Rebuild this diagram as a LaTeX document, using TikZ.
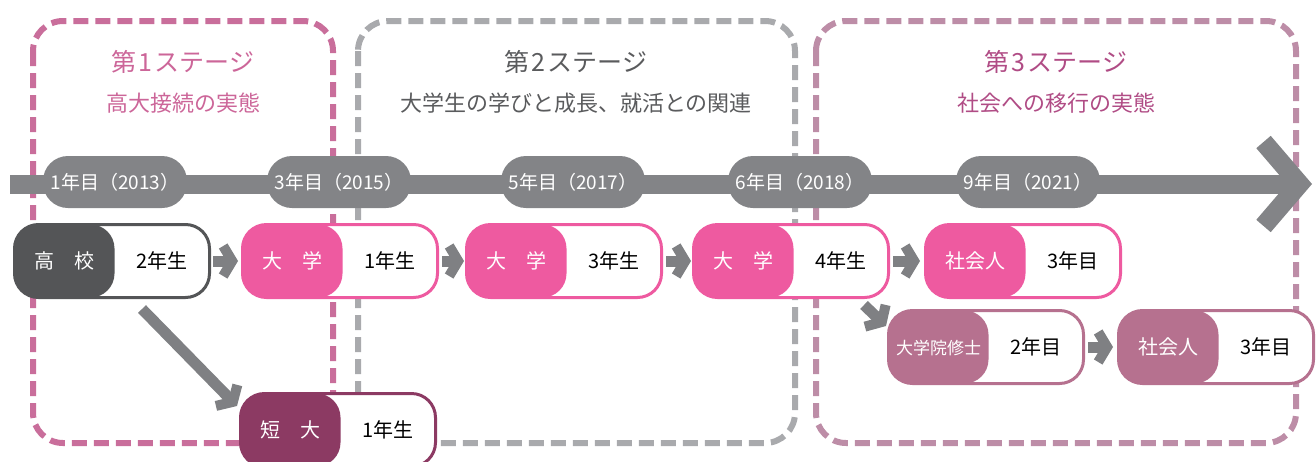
\documentclass[tikz,border=0pt]{standalone}
\usepackage{fontspec}
\setmainfont{Noto Sans CJK JP}
\usetikzlibrary{arrows.meta}
\definecolor{stageone}{HTML}{C96E9B}
\definecolor{stagetwo}{HTML}{A9AAAD}
\definecolor{stagethree}{HTML}{BD8DA7}
\definecolor{titleone}{HTML}{CC6699}
\definecolor{titletwo}{HTML}{5A5B5D}
\definecolor{titlethree}{HTML}{B04C85}
\definecolor{timegray}{HTML}{838487}
\definecolor{arrowgray}{HTML}{7F8083}
\definecolor{schoolgray}{HTML}{545557}
\definecolor{univpink}{HTML}{EE5AA0}
\definecolor{gradmauve}{HTML}{B6718F}
\definecolor{juniorplum}{HTML}{8C3A63}
\newcommand{\twopart}[2]{\makebox[100pt]{\color{white}#1}\makebox[95pt]{#2}}
\tikzset{
  stageframe/.style={draw=#1, line width=6pt, dash pattern=on 15pt off 7pt, rounded corners=30pt},
  stagetitle/.style={text=#1, font=\fontsize{25}{25}\selectfont},
  stagesub/.style={text=#1, font=\fontsize{22}{22}\selectfont},
  yearpill/.style={fill=timegray, text=white, rounded corners=25pt, minimum width=144pt,
    minimum height=52pt, inner sep=0pt, font=\fontsize{19}{19}\selectfont},
  stagebox/.style={draw=#1, line width=3pt, fill=white, rounded corners=24pt,
    minimum width=195pt, minimum height=73pt, inner sep=0pt, font=\fontsize{20}{20}\selectfont,
    path picture={\fill[#1] (path picture bounding box.north west)
      rectangle ([xshift=100pt]path picture bounding box.south west);}},
  flow/.style={draw=arrowgray, line width=11pt, -{Straight Barb[length=9pt, width=30pt, line width=10pt]}}
}
\begin{document}
\begin{tikzpicture}[x=1pt,y=-1pt]
\useasboundingbox (0,0) rectangle (1316,461);
% stage frames
\draw[stageframe=stageone] (33,21) rectangle (333,443);
\draw[stageframe=stagetwo] (358,21) rectangle (795,443);
\draw[stageframe=stagethree] (816,21) rectangle (1296,443);
\node[stagetitle=titleone] (s1title) at (183,62) {第\kern2pt 1\kern2pt ステージ};
\node[stagesub=titleone] (s1sub) at (183,103) {高大接続の実態};
\node[stagetitle=titletwo] (s2title) at (576,62) {第\kern2pt 2\kern2pt ステージ};
\node[stagesub=titletwo] (s2sub) at (576,103) {大学生の学びと成長、就活との関連};
\node[stagetitle=titlethree] (s3title) at (1056,62) {第\kern2pt 3\kern2pt ステージ};
\node[stagesub=titlethree] (s3sub) at (1056,103) {社会への移行の実態};
% timeline
\coordinate (tstart) at (10,184);
\coordinate (tend) at (1312,184);
\draw[timegray, line width=19pt, -{Straight Barb[length=36pt, width=84pt, line width=19pt]}] (tstart) -- (tend);
\node[yearpill] (y1) at (115,182) {1年目（2013）};
\node[yearpill] (y3) at (339,182) {3年目（2015）};
\node[yearpill] (y5) at (573,182) {5年目（2017）};
\node[yearpill] (y6) at (800,182) {6年目（2018）};
\node[yearpill] (y9) at (1028,182) {9年目（2021）};
% boxes
\node[stagebox=schoolgray] (koko) at (112,261) {\twopart{高　校}{2年生}};
\node[stagebox=univpink] (dai1) at (340,261) {\twopart{大　学}{1年生}};
\node[stagebox=univpink] (dai3) at (564,261) {\twopart{大　学}{3年生}};
\node[stagebox=univpink] (dai4) at (791,261) {\twopart{大　学}{4年生}};
\node[stagebox=univpink] (sha1) at (1023,261) {\twopart{社会人}{3年目}};
\node[stagebox=gradmauve] (insyu) at (986,347) {\twopart{\fontsize{17}{17}\selectfont 大学院修士}{2年目}};
\node[stagebox=gradmauve] (sha2) at (1216,347) {\twopart{社会人}{3年目}};
\node[stagebox=juniorplum] (tanki) at (338,430) {\twopart{短　大}{1年生}};
% arrows
\draw[flow] ([xshift=2pt]koko.east) -- ([xshift=-3pt]dai1.west);
\draw[flow] ([xshift=3pt]dai1.east) -- ([xshift=-1pt]dai3.west);
\draw[flow] ([xshift=3pt]dai3.east) -- ([xshift=-1pt]dai4.west);
\draw[flow] ([xshift=3pt]dai4.east) -- ([xshift=-4pt]sha1.west);
\draw[flow] ([xshift=3pt]insyu.east) -- ([xshift=-4pt]sha2.west);
\draw[flow] ([xshift=30pt,yshift=-10pt]koko.south) -- ([xshift=-2pt,yshift=-14pt]tanki.north west);
\draw[flow] ([xshift=-26pt,yshift=-6pt]dai4.south east) -- ([xshift=-1pt,yshift=-17pt]insyu.north west);
\end{tikzpicture}
\end{document}
